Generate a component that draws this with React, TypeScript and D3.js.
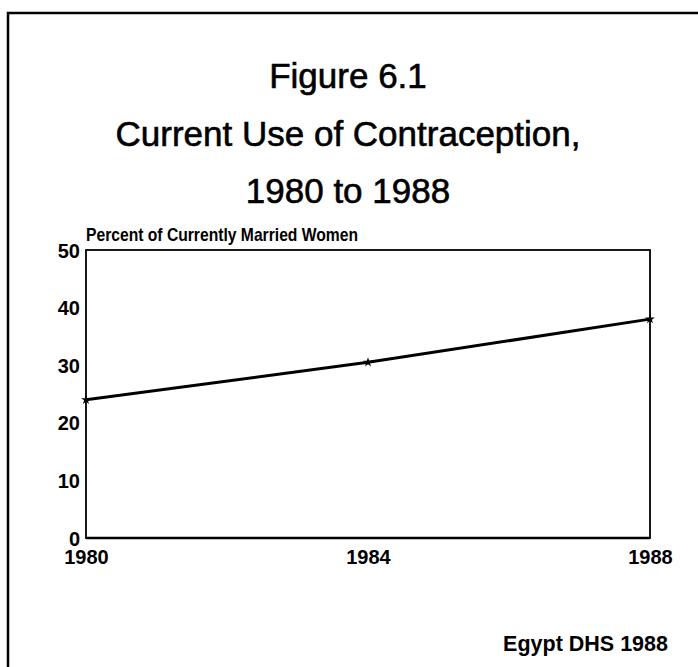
import React, { useEffect, useRef } from "react";
import * as d3 from "d3";

const years = [1980, 1984, 1988];
const percentUsing = [24, 30.5, 38];
const yTicks = [0, 10, 20, 30, 40, 50];
const titleLines = ["Figure 6.1", "Current Use of Contraception,", "1980 to 1988"];

const App = () => {
  const ref = useRef<SVGSVGElement | null>(null);
  const width = 698;
  const height = 667;
  const plot = { left: 86, right: 650, top: 250, bottom: 538 };

  useEffect(() => {
    const svg = d3.select(ref.current);
    svg.selectAll("*").remove();
    const font = "'Liberation Sans', Arial, Helvetica, sans-serif";

    // outer frame (runs off the right and bottom of the page)
    svg
      .append("path")
      .attr("d", `M8,${height + 5}V13H${width + 5}`)
      .attr("fill", "none")
      .attr("stroke", "black")
      .attr("stroke-width", 2.5);

    svg
      .append("g")
      .selectAll("text")
      .data(titleLines)
      .join("text")
      .attr("x", 348)
      .attr("y", (d, i) => 88 + i * 57.5)
      .attr("text-anchor", "middle")
      .attr("stroke", "black")
      .attr("stroke-width", 0.6)
      .style("font-family", font)
      .style("font-size", "35px")
      .text((d) => d);

    const x = d3.scaleLinear().domain([1980, 1988]).range([plot.left, plot.right]);
    const y = d3.scaleLinear().domain([0, 50]).range([plot.bottom, plot.top]);

    svg
      .append("rect")
      .attr("x", plot.left)
      .attr("y", plot.top)
      .attr("width", plot.right - plot.left)
      .attr("height", plot.bottom - plot.top)
      .attr("fill", "none")
      .attr("stroke", "black")
      .attr("stroke-width", 1.8);

    svg
      .append("line")
      .attr("x1", plot.left)
      .attr("x2", plot.right)
      .attr("y1", plot.bottom)
      .attr("y2", plot.bottom)
      .attr("stroke", "black")
      .attr("stroke-width", 2.5);

    const yAxis = d3.axisLeft(y).tickValues(yTicks).tickSize(0).tickPadding(6);
    const yg = svg.append("g").attr("transform", `translate(${plot.left},0)`).call(yAxis);
    yg.select(".domain").remove();
    yg.selectAll("text")
      .attr("dy", "0.35em")
      .style("font-family", font)
      .style("font-weight", "bold")
      .style("font-size", "20px")
      .style("fill", "black");

    const xAxis = d3.axisBottom(x).tickValues(years).tickFormat(d3.format("d")).tickSize(0).tickPadding(12);
    const xg = svg.append("g").attr("transform", `translate(0,${plot.bottom})`).call(xAxis);
    xg.select(".domain").remove();
    xg.selectAll("text")
      .style("font-family", font)
      .style("font-weight", "bold")
      .style("font-size", "20px")
      .style("fill", "black");

    svg
      .append("text")
      .attr("x", plot.left)
      .attr("y", 241)
      .attr("textLength", 272)
      .attr("lengthAdjust", "spacingAndGlyphs")
      .style("font-family", font)
      .style("font-weight", "bold")
      .style("font-size", "19px")
      .text("Percent of Currently Married Women");

    const line = d3
      .line<number>()
      .x((d, i) => x(years[i]))
      .y((d) => y(d));

    svg
      .append("path")
      .datum(percentUsing)
      .attr("d", line)
      .attr("fill", "none")
      .attr("stroke", "black")
      .attr("stroke-width", 3);

    svg
      .append("g")
      .selectAll("path")
      .data(percentUsing)
      .join("path")
      .attr("d", d3.symbol(d3.symbolStar, 30))
      .attr("transform", (d, i) => `translate(${x(years[i])},${y(d)})`)
      .attr("fill", "black");

    svg
      .append("text")
      .attr("x", 668)
      .attr("y", 651)
      .attr("text-anchor", "end")
      .style("font-family", font)
      .style("font-weight", "bold")
      .style("font-size", "21.5px")
      .text("Egypt DHS 1988");
  }, []);

  return (
    <svg
      ref={ref}
      width={width}
      height={height}
      style={{ position: "absolute", left: 0, top: 0, background: "white" }}
    />
  );
};

export default App;
